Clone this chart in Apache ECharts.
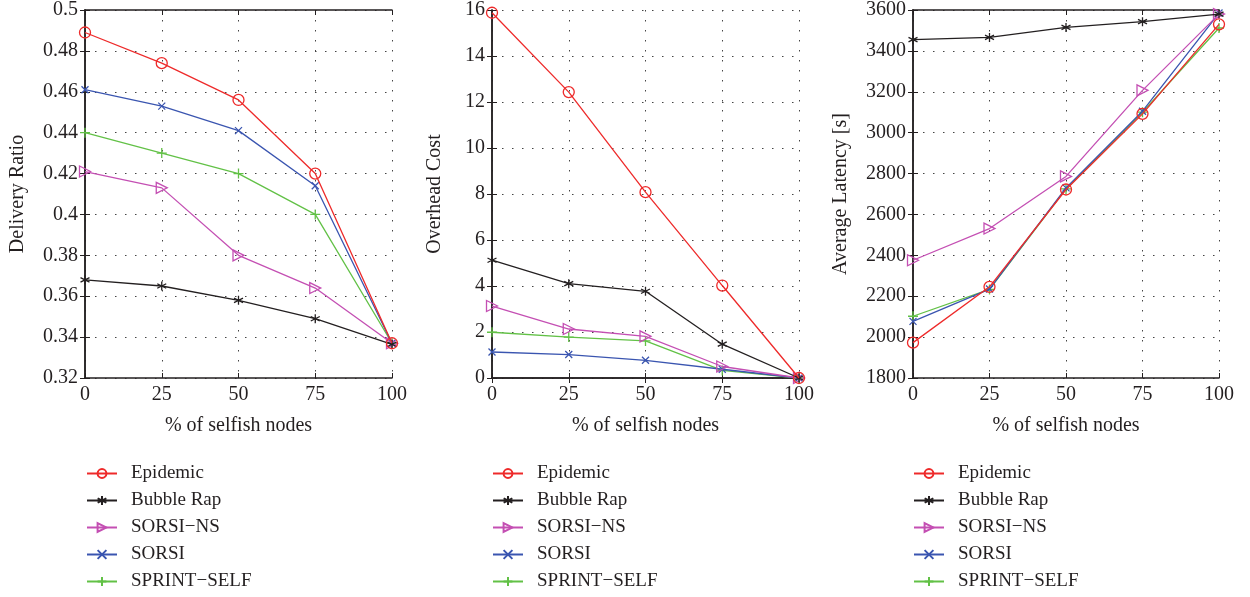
<!DOCTYPE html>
<html>
<head>
<meta charset="utf-8">
<script src="https://cdn.jsdelivr.net/npm/echarts@6/dist/echarts.min.js"></script>
<style>
  html, body { margin: 0; padding: 0; background: #fff; }
  #chart { width: 1250px; height: 597px; }
</style>
</head>
<body>
<div id="chart"></div>
<script>
// Percentage of selfish nodes (shared x values for all three panels)
const selfishPct = [0, 25, 50, 75, 100];

const seriesNames = ['Epidemic', 'Bubble Rap', 'SORSI\u2212NS', 'SORSI', 'SPRINT\u2212SELF'];

// Delivery ratio
const deliveryEpidemic = [0.489, 0.474, 0.456, 0.420, 0.337];
const deliveryBubbleRap = [0.368, 0.365, 0.358, 0.349, 0.3365];
const deliverySorsiNs = [0.421, 0.413, 0.380, 0.364, 0.337];
const deliverySorsi = [0.461, 0.453, 0.441, 0.414, 0.337];
const deliverySprintSelf = [0.440, 0.430, 0.420, 0.400, 0.337];

// Overhead cost
const overheadEpidemic = [15.88, 12.43, 8.08, 4.02, 0];
const overheadBubbleRap = [5.12, 4.10, 3.77, 1.47, 0];
const overheadSorsiNs = [3.13, 2.13, 1.81, 0.50, 0];
const overheadSorsi = [1.13, 1.02, 0.77, 0.38, 0];
const overheadSprintSelf = [1.99, 1.78, 1.61, 0.33, 0];

// Average latency [s]
const latencyEpidemic = [1973, 2246, 2722, 3092, 3530];
const latencyBubbleRap = [3455, 3466, 3515, 3543, 3580];
const latencySorsiNs = [2376, 2531, 2786, 3207, 3580];
const latencySorsi = [2077, 2235, 2730, 3105, 3585];
const latencySprintSelf = [2102, 2233, 2725, 3100, 3512];

// Axis ranges and titles for each panel
const panelTitles = ['Delivery Ratio', 'Overhead Cost', 'Average Latency [s]'];
const yMins = [0.32, 0, 1800];
const yMaxs = [0.5, 16, 3600];
const yIntervals = [0.02, 2, 200];
const xTicks = [0, 100, 25];

const panelData = [
  [deliveryEpidemic, deliveryBubbleRap, deliverySorsiNs, deliverySorsi, deliverySprintSelf],
  [overheadEpidemic, overheadBubbleRap, overheadSorsiNs, overheadSorsi, overheadSprintSelf],
  [latencyEpidemic, latencyBubbleRap, latencySorsiNs, latencySorsi, latencySprintSelf]
];

const FONT = '"Liberation Serif", "DejaVu Serif", serif';
const INK = '#231f20';

const colors = ['#ee2a2a', '#231f20', '#c44fb3', '#3a55b0', '#62c146'];
const symbols = [
  'circle',
  'path://M0,-1L0,1M-0.866,-0.5L0.866,0.5M-0.866,0.5L0.866,-0.5',
  'path://M0,0L1,0.5L0,1Z',
  'path://M-1,-1L1,1M-1,1L1,-1',
  'path://M0,-1L0,1M-1,0L1,0'
];
const symbolSizes = [11, 9, [11, 11], 7, 10];

const grids = [
  { left: 85, top: 10, width: 307, height: 368 },
  { left: 492, top: 10, width: 307, height: 368 },
  { left: 913, top: 10, width: 306, height: 368 }
];
const yNameGaps = [57, 47, 62];
const legendLefts = [86, 492, 913];

const xAxes = [], yAxes = [], series = [], legends = [];

grids.forEach((g, p) => {
  // bottom axis with labels and grid
  xAxes.push({
    type: 'value', gridIndex: p, min: xTicks[0], max: xTicks[1], interval: xTicks[2],
    position: 'bottom',
    name: '% of selfish nodes', nameLocation: 'middle', nameGap: 38,
    nameTextStyle: { fontFamily: FONT, fontSize: 20, color: INK },
    axisLine: { show: true, lineStyle: { color: INK, width: 1.5 } },
    axisTick: { show: true, inside: true, length: 5, lineStyle: { color: INK } },
    axisLabel: { fontFamily: FONT, fontSize: 20, color: INK, margin: 7 },
    splitLine: { show: true, lineStyle: { color: '#444', width: 1, type: [1.5, 8.5] } }
  });
  // top frame axis
  xAxes.push({
    type: 'value', gridIndex: p, min: xTicks[0], max: xTicks[1], interval: xTicks[2],
    position: 'top',
    axisLine: { show: true, lineStyle: { color: INK, width: 1.5 } },
    axisTick: { show: true, inside: true, length: 5, lineStyle: { color: INK } },
    axisLabel: { show: false },
    splitLine: { show: false }
  });
  // left axis with labels and grid
  yAxes.push({
    type: 'value', gridIndex: p, min: yMins[p], max: yMaxs[p], interval: yIntervals[p],
    position: 'left',
    name: panelTitles[p], nameLocation: 'middle', nameGap: yNameGaps[p], nameRotate: 90,
    nameTextStyle: { fontFamily: FONT, fontSize: 20, color: INK },
    axisLine: { show: true, lineStyle: { color: INK, width: 1.5 } },
    axisTick: { show: true, inside: true, length: 5, lineStyle: { color: INK } },
    axisLabel: {
      fontFamily: FONT, fontSize: 20, color: INK, margin: 7,
      formatter: v => String(+v.toFixed(2))
    },
    splitLine: { show: true, lineStyle: { color: '#444', width: 1, type: [1.5, 8.5] } }
  });
  // right frame axis
  yAxes.push({
    type: 'value', gridIndex: p, min: yMins[p], max: yMaxs[p], interval: yIntervals[p],
    position: 'right',
    axisLine: { show: true, lineStyle: { color: INK, width: 1.5 } },
    axisTick: { show: true, inside: true, length: 5, lineStyle: { color: INK } },
    axisLabel: { show: false },
    splitLine: { show: false }
  });

  seriesNames.forEach((name, s) => {
    series.push({
      type: 'line',
      name: name,
      xAxisIndex: p * 2,
      yAxisIndex: p * 2,
      data: selfishPct.map((x, i) => [x, panelData[p][s][i]]),
      symbol: symbols[s],
      symbolSize: symbolSizes[s],
      showAllSymbol: true,
      clip: false,
      z: 10 - s,
      lineStyle: { color: colors[s], width: 1.3 },
      itemStyle: {
        color: 'rgba(0,0,0,0)',
        borderColor: colors[s],
        borderWidth: 1.3
      },
      emphasis: { disabled: true },
      animation: false
    });
  });

  legends.push({
    orient: 'vertical',
    left: legendLefts[p],
    top: 463.5,
    padding: 0,
    height: 133,
    data: seriesNames,
    itemWidth: 30,
    itemHeight: 11,
    itemGap: 7,
    selectedMode: false,
    textStyle: { fontFamily: FONT, fontSize: 19, color: INK, lineHeight: 20, padding: [0, 0, 0, 9] }
  });
});

const chart = echarts.init(document.getElementById('chart'), null, { renderer: 'canvas' });
chart.setOption({
  backgroundColor: '#ffffff',
  animation: false,
  grid: grids,
  xAxis: xAxes,
  yAxis: yAxes,
  legend: legends,
  series: series
});
</script>
</body>
</html>
